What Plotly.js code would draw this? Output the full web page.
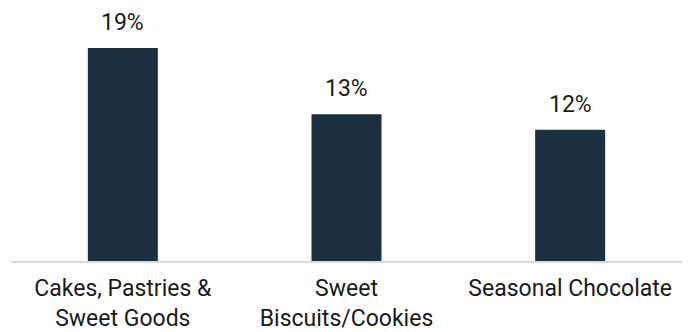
<!DOCTYPE html>
<html><head><meta charset="utf-8">
<script src="https://cdn.plot.ly/plotly-3.0.1.min.js"></script>
<style>html,body{margin:0;padding:0;background:#fff}#chart{width:691px;height:332px}</style>
</head><body><div id="chart"></div>
<script>
const categories = ["Cakes, Pastries &<br>Sweet Goods", "Sweet<br>Biscuits/Cookies", "Seasonal Chocolate"];
const values = [19, 13.1, 11.7];
const valueLabels = ["19%", "13%", "12%"];

const annotations = categories.map((c, i) => ({
  x: c, y: values[i], xref: "x", yref: "y",
  text: valueLabels[i], showarrow: false, yanchor: "bottom", yshift: 10,
  font: {family: "Roboto", size: 23, color: "#1a1a1a"}
}));

Plotly.newPlot("chart", [{
  type: "bar",
  x: categories,
  y: values,
  marker: {color: "#1b3040"},
  width: 0.313,
  hoverinfo: "none"
}], {
  width: 691, height: 332,
  margin: {l: 11, r: 9, t: 0, b: 71},
  paper_bgcolor: "#fff", plot_bgcolor: "#fff",
  showlegend: false,
  font: {family: "Roboto", size: 23, color: "#1a1a1a"},
  annotations: annotations,
  xaxis: {showline: true, linecolor: "#d9d9d9", linewidth: 2, ticks: "", showgrid: false, zeroline: false,
          ticklabelstandoff: 5,
          tickfont: {family: "Roboto", size: 23, color: "#1a1a1a"}},
  yaxis: {range: [0, 23.28], visible: false, showgrid: false, zeroline: false}
}, {displayModeBar: false, staticPlot: true});
</script></body></html>
